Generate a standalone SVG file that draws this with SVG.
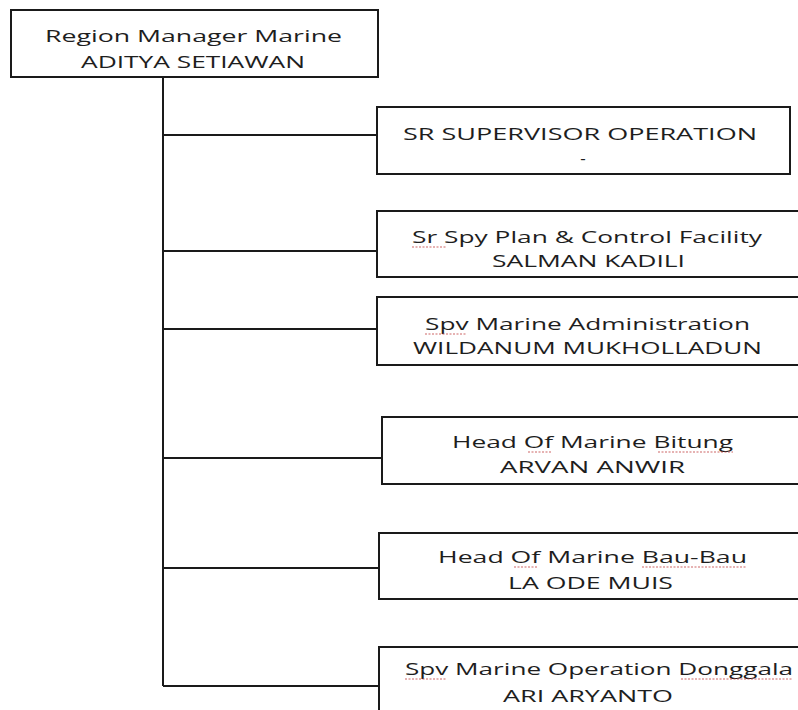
<svg xmlns="http://www.w3.org/2000/svg" width="798" height="710" viewBox="0 0 798 710">
<style>
.box{fill:#fff;stroke:#1a1a1a;stroke-width:2}
.ln{fill:none;stroke:#1a1a1a;stroke-width:2}
text{font-family:"Open Sans","Liberation Sans",sans-serif;font-size:17px;fill:#1e1e1e}
.sq{fill:none;stroke:#c04040;stroke-width:1;stroke-dasharray:2 1.5;opacity:0.8}
</style>
<rect width="798" height="710" fill="#fff"/>
<g id="connectors">
<path class="ln" d="M163 77 V686"/>
<path class="ln" d="M163 135 H377"/>
<path class="ln" d="M163 251 H377"/>
<path class="ln" d="M163 329 H377"/>
<path class="ln" d="M163 458 H382"/>
<path class="ln" d="M163 568 H379"/>
<path class="ln" d="M163 686 H379"/>
</g>
<g id="n0">
<rect class="box" x="11" y="10" width="367" height="67"/>
<text x="45" y="42" textLength="297" lengthAdjust="spacingAndGlyphs">Region Manager Marine</text>
<text x="81" y="68" textLength="224" lengthAdjust="spacingAndGlyphs">ADITYA SETIAWAN</text>
</g>
<g id="n1">
<rect class="box" x="377" y="107" width="413" height="67"/>
<text x="403" y="140" textLength="354" lengthAdjust="spacingAndGlyphs">SR SUPERVISOR OPERATION</text>
<text x="583" y="164" text-anchor="middle">-</text>
</g>
<g id="n2">
<rect class="box" x="377" y="211" width="430" height="66"/>
<text x="412" y="243" textLength="350" lengthAdjust="spacingAndGlyphs">Sr Spy Plan &amp; Control Facility</text>
<text x="492" y="267" textLength="193" lengthAdjust="spacingAndGlyphs">SALMAN KADILI</text>
<path class="sq" d="M412 247 H446"/>
</g>
<g id="n3">
<rect class="box" x="377" y="297" width="430" height="68"/>
<text x="425" y="330" textLength="325" lengthAdjust="spacingAndGlyphs">Spv Marine Administration</text>
<text x="413" y="354" textLength="349" lengthAdjust="spacingAndGlyphs">WILDANUM MUKHOLLADUN</text>
<path class="sq" d="M425 334 H467"/>
</g>
<g id="n4">
<rect class="box" x="382" y="417" width="425" height="67"/>
<text x="452" y="448" textLength="281" lengthAdjust="spacingAndGlyphs">Head Of Marine Bitung</text>
<text x="500" y="473" textLength="185" lengthAdjust="spacingAndGlyphs">ARVAN ANWIR</text>
<path class="sq" d="M528 452 H552 M658 452 H733"/>
</g>
<g id="n5">
<rect class="box" x="379" y="533" width="428" height="66"/>
<text x="438" y="563" textLength="309" lengthAdjust="spacingAndGlyphs">Head Of Marine Bau-Bau</text>
<text x="508" y="589" textLength="165" lengthAdjust="spacingAndGlyphs">LA ODE MUIS</text>
<path class="sq" d="M514 567 H538 M642 567 H747"/>
</g>
<g id="n6">
<rect class="box" x="379" y="647" width="428" height="70"/>
<text x="405" y="675" textLength="388" lengthAdjust="spacingAndGlyphs">Spv Marine Operation Donggala</text>
<text x="503" y="702" textLength="170" lengthAdjust="spacingAndGlyphs">ARI ARYANTO</text>
<path class="sq" d="M405 679 H447 M681 679 H793"/>
</g>
</svg>
